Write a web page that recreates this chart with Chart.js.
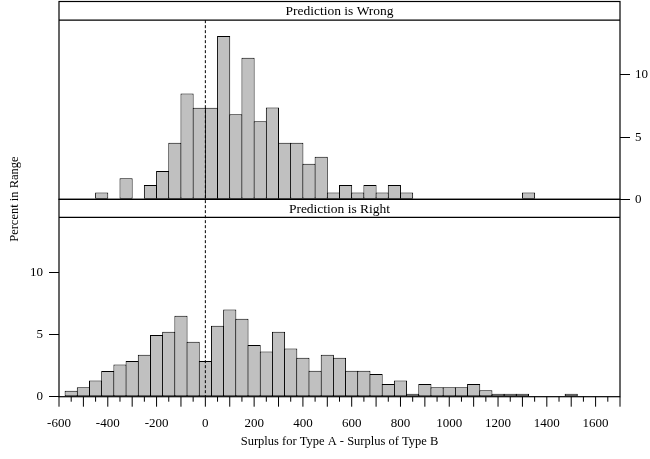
<!DOCTYPE html>
<html>
<head>
<meta charset="utf-8">
<script src="https://cdn.jsdelivr.net/npm/chart.js@4.4.1/dist/chart.umd.min.js"></script>
<style>
  html, body { margin: 0; padding: 0; background: #fff; }
</style>
</head>
<body>
<canvas id="histChart" width="650" height="459"></canvas>
<script>
// bin midpoints (bins are 50 wide) and percent of cases in each bin
const wrongMids = [-425, -375, -325, -275, -225, -175, -125, -75, -25, 25, 75, 125, 175, 225,
  275, 325, 375, 425, 475, 525, 575, 625, 675, 725, 775, 825, 1325];
const wrongPct = [0.56, 0, 1.69, 0, 1.15, 2.28, 4.55, 8.51, 7.36, 7.36, 13.12, 6.83, 11.38, 6.27,
  7.39, 4.55, 4.55, 2.86, 3.43, 0.56, 1.15, 0.56, 1.15, 0.56, 1.15, 0.56, 0.56];

const rightMids = [-550, -500, -450, -400, -350, -300, -250, -200, -150, -100, -50, 0, 50, 100,
  150, 200, 250, 300, 350, 400, 450, 500, 550, 600, 650, 700, 750, 800, 850, 900, 950, 1000,
  1050, 1100, 1150, 1200, 1250, 1300, 1350, 1400, 1450, 1500, 1550, 1600, 1650];
const rightPct = [0.48, 0.75, 1.31, 2.06, 2.59, 2.86, 3.37, 4.95, 5.21, 6.5, 4.41, 2.86, 5.7, 7.0,
  6.26, 4.15, 3.64, 5.21, 3.88, 3.13, 2.09, 3.37, 3.13, 2.09, 2.09, 1.82, 1.02, 1.31, 0.24, 1.02,
  0.75, 0.75, 0.75, 1.02, 0.51, 0.24, 0.24, 0.24, 0, 0, 0, 0.24, 0, 0, 0];

const xLabels = [-600, -400, -200, 0, 200, 400, 600, 800, 1000, 1200, 1400, 1600];
const yTickValues = [0, 5, 10];
const stripLabels = ['Prediction is Wrong', 'Prediction is Right'];

const xMin = -600, xMax = 1700, xStep = 50;
const panelMax = 14.4;           // top of each panel, strips sit above it
const topAxis = [-15.86, 15.9];  // top panel shares the canvas height with bottom panel
const botAxis = [0, 31.74];

const serif = 'Liberation Serif, Times New Roman, serif';
Chart.defaults.color = '#000';
Chart.defaults.font.family = serif;
Chart.defaults.font.size = 13;

function xTicks(scale) {
  const t = [];
  for (let v = xMin; v <= xMax; v += xStep) t.push({ value: v });
  scale.ticks = t;
}
function yTicks(scale) {
  scale.ticks = yTickValues.map(v => ({ value: v }));
}
// fixed box sizes, and no extra room for half tick labels
function fixWidth(w) {
  return s => {
    s.width = w;
    s.paddingTop = 0;
    s.paddingBottom = 0;
  };
}

const panelPlugin = {
  id: 'panels',
  afterDatasetsDraw(chart) {
    const { ctx, chartArea: a, scales } = chart;
    const x = scales.x;
    const topStrip = scales.yTop.getPixelForValue(panelMax);
    const mid = scales.yTop.getPixelForValue(0);
    const botStrip = scales.yBot.getPixelForValue(panelMax);
    ctx.save();

    // dashed line at zero difference
    const x0 = x.getPixelForValue(0);
    ctx.strokeStyle = '#000';
    ctx.lineWidth = 1;
    ctx.setLineDash([3, 2]);
    ctx.beginPath();
    ctx.moveTo(x0, topStrip);
    ctx.lineTo(x0, a.bottom);
    ctx.stroke();
    ctx.setLineDash([]);

    // panel frames and strip lines
    ctx.lineWidth = 1.2;
    ctx.strokeRect(a.left, a.top, a.right - a.left, mid - a.top);
    ctx.strokeRect(a.left, mid, a.right - a.left, a.bottom - mid);
    ctx.beginPath();
    ctx.moveTo(a.left, topStrip); ctx.lineTo(a.right, topStrip);
    ctx.moveTo(a.left, botStrip); ctx.lineTo(a.right, botStrip);
    ctx.stroke();

    // strip labels
    ctx.font = '13.5px ' + serif;
    ctx.fillStyle = '#000';
    ctx.textAlign = 'center';
    ctx.textBaseline = 'middle';
    const cx = (a.left + a.right) / 2;
    ctx.fillText(stripLabels[0], cx, (a.top + topStrip) / 2 + 1);
    ctx.fillText(stripLabels[1], cx, (mid + botStrip) / 2 + 1);

    // x tick marks: long at hundreds, short at fifties
    ctx.lineWidth = 1;
    ctx.beginPath();
    x.ticks.forEach(t => {
      const px = x.getPixelForValue(t.value);
      const len = t.value % 100 === 0 ? 10 : 5;
      ctx.moveTo(px, a.bottom);
      ctx.lineTo(px, a.bottom + len);
    });
    ctx.stroke();
    ctx.restore();
  }
};

const barStyle = {
  backgroundColor: '#c0c0c0',
  borderColor: '#000',
  borderWidth: 1,
  borderSkipped: false,
  barPercentage: 1.08,
  categoryPercentage: 1,
  grouped: false
};

new Chart(document.getElementById('histChart'), {
  type: 'bar',
  data: {
    datasets: [
      Object.assign({
        label: stripLabels[0],
        data: wrongMids.map((m, i) => ({ x: m, y: wrongPct[i] })),
        xAxisID: 'xTop',
        yAxisID: 'yTop'
      }, barStyle),
      Object.assign({
        label: stripLabels[1],
        data: rightMids.map((m, i) => ({ x: m, y: rightPct[i] })),
        xAxisID: 'x',
        yAxisID: 'yBot'
      }, barStyle)
    ]
  },
  plugins: [panelPlugin],
  options: {
    responsive: false,
    animation: false,
    layout: { padding: { top: 1.5, left: 0, right: 0, bottom: 0 } },
    plugins: { legend: { display: false }, tooltip: { enabled: false } },
    scales: {
      x: {
        type: 'linear',
        position: 'bottom',
        min: xMin,
        max: xMax,
        offset: false,
        afterBuildTicks: xTicks,
        afterFit: s => { s.height = 62.3; },
        grid: { display: false, drawTicks: false, offset: false },
        border: { display: false },
        ticks: {
          autoSkip: false,
          maxRotation: 0,
          padding: 19,
          callback: v => xLabels.includes(v) ? String(v) : ''
        },
        title: {
          display: true,
          text: 'Surplus for Type A - Surplus of Type B',
          font: { size: 12.5 },
          padding: { top: 0, bottom: 10 }
        }
      },
      xTop: {
        type: 'linear',
        display: false,
        min: xMin,
        max: xMax,
        offset: false,
        grid: { offset: false }
      },
      yTop: {
        type: 'linear',
        position: 'right',
        min: topAxis[0],
        max: topAxis[1],
        afterBuildTicks: yTicks,
        afterFit: fixWidth(30),
        grid: { drawOnChartArea: false, drawTicks: true, tickLength: 10, color: '#000' },
        border: { display: false },
        ticks: { padding: 5 }
      },
      yBot: {
        type: 'linear',
        position: 'left',
        min: botAxis[0],
        max: botAxis[1],
        afterBuildTicks: yTicks,
        afterFit: fixWidth(59),
        grid: { drawOnChartArea: false, drawTicks: true, tickLength: 10, color: '#000' },
        border: { display: false },
        ticks: { padding: 6 },
        title: {
          display: true,
          text: 'Percent in Range',
          font: { size: 12.5 },
          padding: { top: 7, bottom: 0 }
        }
      }
    }
  }
});
</script>
</body>
</html>
